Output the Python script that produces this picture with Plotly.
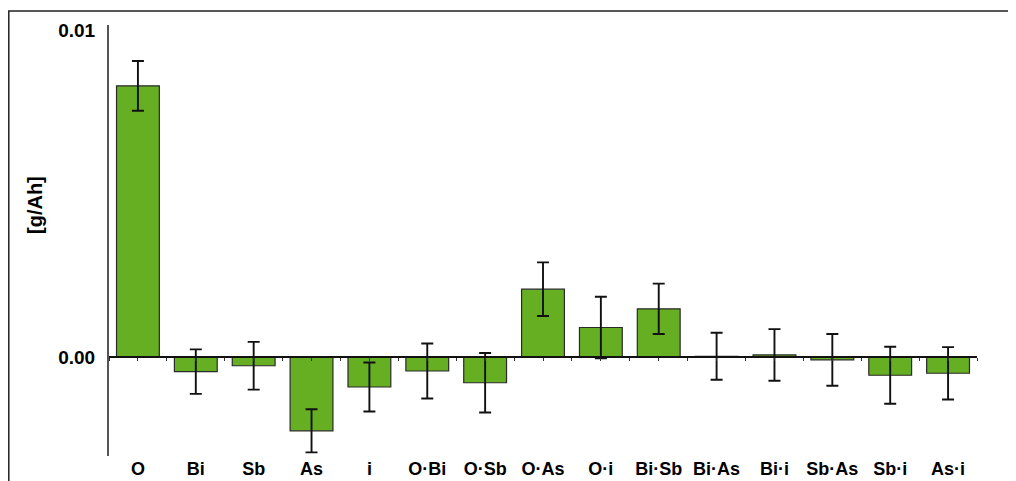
import plotly.graph_objects as go

categories = ["O", "Bi", "Sb", "As", "i", "O\u00b7Bi", "O\u00b7Sb", "O\u00b7As", "O\u00b7i",
              "Bi\u00b7Sb", "Bi\u00b7As", "Bi\u00b7i", "Sb\u00b7As", "Sb\u00b7i", "As\u00b7i"]
effects = [0.00830, -0.00044, -0.00026, -0.00225, -0.00091, -0.00042, -0.00078, 0.00208,
           0.00091, 0.00148, 0.00003, 0.00007, -0.00008, -0.00055, -0.00049]
errors = [0.00076, 0.00068, 0.00073, 0.00066, 0.00075, 0.00084, 0.00091, 0.00082,
          0.00094, 0.00077, 0.00072, 0.00079, 0.00079, 0.00087, 0.00080]
y_tick_vals = [0.0, 0.01]
y_tick_text = ["0.00", "0.01"]
y_range = [-0.00302, 0.01016]
y_title = "[g/Ah]"

FONT = "Liberation Sans, Arial, sans-serif"
GREEN = "#66AE22"

# page body has an 8px default margin; figure sized to fit the window
W, H = 1008, 473
L, R, T, B = 101, 39, 17, 25
PW, PH = W - L - R, H - T - B

fig = go.Figure()
fig.add_trace(go.Bar(
    x=categories, y=effects,
    marker=dict(color=GREEN, line=dict(color="#2a2a2a", width=1.2)),
    error_y=dict(type="data", array=errors, visible=True, color="#111111",
                 thickness=1.9, width=6),
    showlegend=False,
))

# zero baseline axis with tiny ticks at centres and boundaries
n = len(categories)
tick_positions = [k / 2 for k in range(-1, 2 * n)]
zero_pos = (0 - y_range[0]) / (y_range[1] - y_range[0])
fig.add_trace(go.Scatter(x=[None], y=[None], xaxis="x2", showlegend=False))

fig.update_layout(
    width=W, height=H,
    margin=dict(l=L, r=R, t=T, b=B, pad=0, autoexpand=False),
    paper_bgcolor="white", plot_bgcolor="white",
    bargap=0.26,
    font=dict(family=FONT, size=17, color="#000000"),
    xaxis=dict(
        type="category", range=[-0.5, n - 0.5], automargin=False,
        showline=False, showgrid=False, zeroline=False, ticks="",
        tickfont=dict(family=FONT, size=18, color="#000000", weight="bold"),
        ticklabelstandoff=0,
    ),
    xaxis2=dict(
        overlaying="x", anchor="free", position=zero_pos, automargin=False,
        range=[-0.5, n - 0.5], showgrid=False, zeroline=False,
        showline=True, linecolor="#111111", linewidth=1.6,
        ticks="outside", ticklen=3, tickwidth=1, tickcolor="#333333",
        tickvals=tick_positions, showticklabels=False,
    ),
    yaxis=dict(
        range=y_range, showgrid=False, zeroline=False, automargin=False,
        showline=True, linecolor="#555555", linewidth=2,
        ticks="", tickvals=y_tick_vals, ticktext=y_tick_text,
        tickfont=dict(family=FONT, size=19, color="#000000", weight="bold"),
        ticklabelstandoff=8,
    ),
    annotations=[dict(
        text=y_title, textangle=-90, xref="paper", yref="paper",
        x=(27 - L) / PW, y=(H - B - 197) / PH,
        xanchor="center", yanchor="middle", showarrow=False,
        font=dict(family=FONT, size=20, color="#000000", weight="bold"),
    )],
    shapes=[dict(
        type="rect", xref="paper", yref="paper",
        x0=(0.8 - L) / PW, x1=1.3, y0=-0.3, y1=(H - B - 3) / PH,
        line=dict(color="#222222", width=1.5), fillcolor="rgba(0,0,0,0)",
        layer="below",
    )],
)

fig.write_html("out.html")
